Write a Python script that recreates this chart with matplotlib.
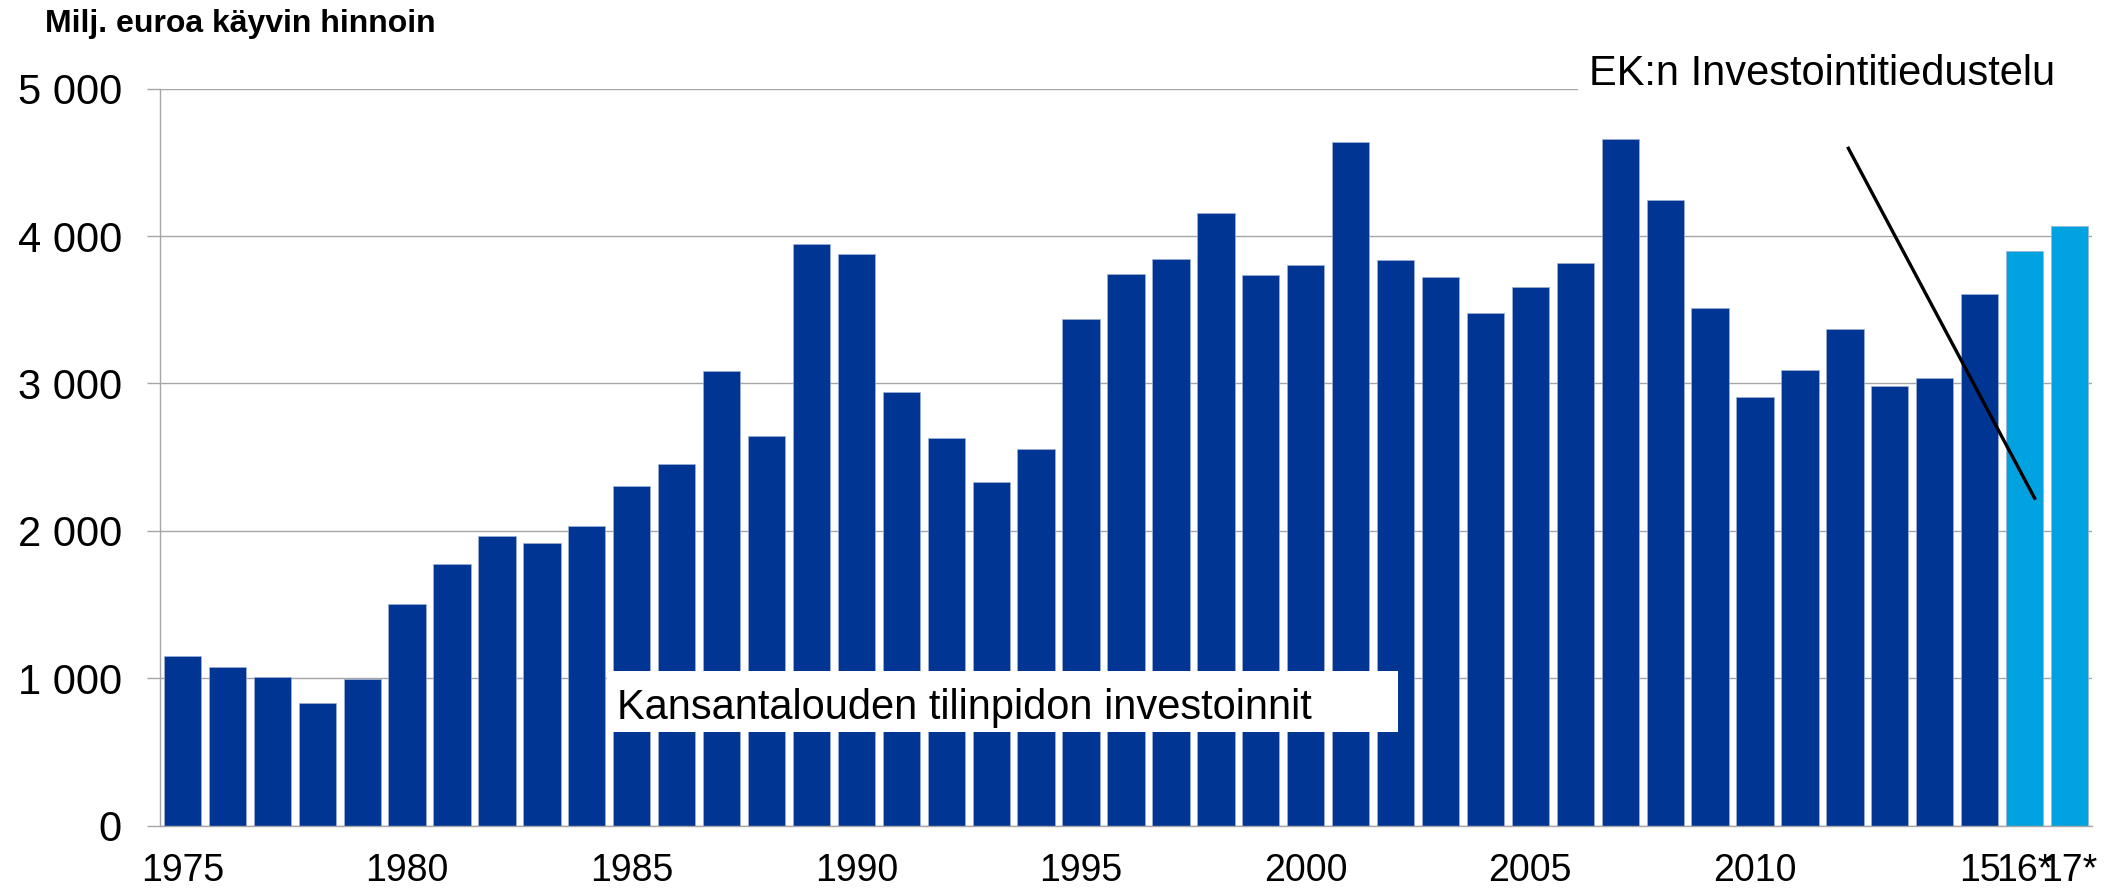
import matplotlib.pyplot as plt
from matplotlib.patches import Rectangle

plt.rcParams["font.family"] = ["Liberation Sans", "DejaVu Sans"]

# Milj. euroa, käyvin hinnoin (1975-2015 kansantalouden tilinpito, 2016-17 EK:n kysely)
years = list(range(1975, 2018))
values = [
    1150, 1075, 1005, 835, 995, 1505, 1775, 1965, 1915, 2035,
    2305, 2455, 3085, 2645, 3945, 3875, 2945, 2630, 2330, 2555,
    3440, 3745, 3845, 4155, 3735, 3805, 4635, 3840, 3725, 3480,
    3655, 3820, 4655, 4245, 3510, 2910, 3090, 3370, 2985, 3040,
    3605, 3900, 4070,
]
forecast_years = [2016, 2017]

tick_years = [1975, 1980, 1985, 1990, 1995, 2000, 2005, 2010, 2015, 2016, 2017]
tick_labels = ["1975", "1980", "1985", "1990", "1995", "2000", "2005", "2010",
               "15", "16*", "17*"]
y_ticks = [0, 1000, 2000, 3000, 4000, 5000]
y_labels = ["0", "1 000", "2 000", "3 000", "4 000", "5 000"]

dark_blue = "#003594"
light_blue = "#00A3E0"
grid_grey = "#A6A6A6"

fig = plt.figure(figsize=(21.05, 8.88), dpi=100)
ax = fig.add_axes([160 / 2105, 62.4 / 888, 1932 / 2105, 737 / 888])

xs = [y - years[0] for y in years]
colors = [light_blue if y in forecast_years else dark_blue for y in years]
ax.bar(xs, values, width=0.83, color=colors, edgecolor="#9fb0d6",
       linewidth=0.5, zorder=2)

ax.set_xlim(-0.5, 42.5)
ax.set_ylim(0, 5000)
ax.set_yticks(y_ticks)
ax.set_yticklabels(y_labels, fontsize=30)
ax.set_xticks([y - years[0] for y in tick_years])
ax.set_xticklabels(tick_labels, fontsize=27)

ax.yaxis.grid(True, color=grid_grey, linewidth=1.0, zorder=0)
ax.set_axisbelow(True)
ax.tick_params(axis="y", length=9.4, width=1.0, color=grid_grey, pad=18)
ax.tick_params(axis="x", length=0, pad=20)
for side in ["top", "right"]:
    ax.spines[side].set_visible(False)
for side in ["left", "bottom"]:
    ax.spines[side].set_color(grid_grey)
    ax.spines[side].set_linewidth(1.0)

# label for the national accounts series
ax.add_patch(Rectangle((9.45, 635), 17.6, 417, facecolor="white",
                       edgecolor="none", zorder=3))
ax.text(9.68, 720, "Kansantalouden tilinpidon investoinnit", fontsize=30,
        va="baseline", ha="left", zorder=4)

# label for the survey forecasts, its white box hides the top gridline
ax.add_patch(Rectangle((31.05, 4975), 11.6, 400, facecolor="white",
                       edgecolor="none", zorder=3, clip_on=False))
ax.text(31.3, 5025, "EK:n Investointitiedustelu", fontsize=30,
        va="baseline", ha="left", zorder=4, clip_on=False)
ax.plot([37.06, 41.24], [4605, 2211], color="black", linewidth=2.4,
        zorder=5, solid_capstyle="butt")

fig.text(45 / 2105, 1 - 32 / 888, "Milj. euroa käyvin hinnoin",
         fontsize=23, fontweight="bold", va="baseline", ha="left")

fig.savefig("out.png", dpi=100)
